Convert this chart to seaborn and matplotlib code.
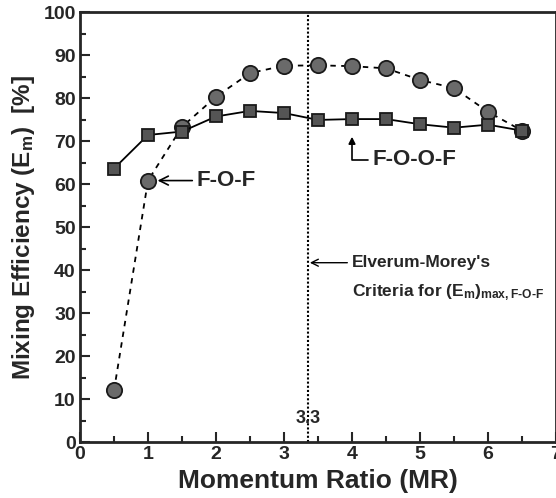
import matplotlib
matplotlib.use("Agg")
import matplotlib.pyplot as plt
import seaborn as sns
import pandas as pd
from matplotlib.ticker import MultipleLocator

mr = [0.5, 1.0, 1.5, 2.0, 2.5, 3.0, 3.5, 4.0, 4.5, 5.0, 5.5, 6.0, 6.5]
fof = [12.0, 60.8, 73.3, 80.3, 85.8, 87.5, 87.6, 87.4, 86.9, 84.2, 82.3, 76.8, 72.4]
foof = [63.6, 71.4, 72.2, 75.7, 77.0, 76.5, 74.9, 75.1, 75.1, 73.9, 73.1, 73.8, 72.4]
criteria_x = 3.36
criteria_label = "3.3"

sns.set_style("ticks")
plt.rcParams['font.family'] = ['Liberation Sans', 'DejaVu Sans']
plt.rcParams['mathtext.fontset'] = 'custom'
plt.rcParams['mathtext.rm'] = 'Liberation Sans:bold'
plt.rcParams['mathtext.it'] = 'Liberation Sans:bold'
plt.rcParams['mathtext.bf'] = 'Liberation Sans:bold'

df = pd.DataFrame({"MR": mr, "FOF": fof, "FOOF": foof})

fig = plt.figure(figsize=(5.56, 4.98), dpi=100)
ax = fig.add_axes([0.1439, 0.1124, 0.8561, 0.8635])

sns.lineplot(data=df, x="MR", y="FOF", ax=ax, color="black", linestyle=(0, (3, 3)),
             linewidth=1.3, marker="o", markersize=11, markerfacecolor="#6a6a6a",
             markeredgecolor="#1a1a1a", markeredgewidth=1.3)
sns.lineplot(data=df, x="MR", y="FOOF", ax=ax, color="black", linestyle="-",
             linewidth=1.3, marker="s", markersize=9, markerfacecolor="#555555",
             markeredgecolor="#1a1a1a", markeredgewidth=1.3)

ax.axvline(criteria_x, color="black", linestyle=(0, (1, 1)), linewidth=1.5)

ax.set_xlim(0, 7)
ax.set_ylim(0, 100)
ax.xaxis.set_major_locator(MultipleLocator(1))
ax.xaxis.set_minor_locator(MultipleLocator(0.5))
ax.yaxis.set_major_locator(MultipleLocator(10))
ax.yaxis.set_minor_locator(MultipleLocator(5))
ax.tick_params(which="both", direction="in", top=False, right=False, width=1.5)
ax.tick_params(which="major", length=7, labelsize=14, pad=3)
ax.tick_params(which="minor", length=4)
for lab in ax.get_xticklabels() + ax.get_yticklabels():
    lab.set_fontweight("bold")
for s in ax.spines.values():
    s.set_linewidth(2)
    s.set_visible(True)

ax.set_xlabel("Momentum Ratio (MR)", fontsize=19, fontweight="bold", labelpad=4)
ax.set_ylabel(r"Mixing Efficiency (E$_\mathregular{m}$)  [%]", fontsize=17.5,
              fontweight="bold", labelpad=5)

ax.text(criteria_x, 5.4, criteria_label, fontsize=13, fontweight="bold",
        ha="center", va="center")

ax.annotate("F-O-F", xy=(1.1, 60.8), xytext=(1.72, 60.8), fontsize=16,
            fontweight="bold", va="center", ha="left",
            arrowprops=dict(arrowstyle="->", color="black", lw=1.2, shrinkA=1, shrinkB=2))
ax.annotate("F-O-O-F", xy=(4.0, 71.0), xytext=(4.3, 65.6), fontsize=16,
            fontweight="bold", va="center", ha="left",
            arrowprops=dict(arrowstyle="-|>", color="black", lw=1.2, shrinkA=1, shrinkB=0,
                            connectionstyle="angle,angleA=0,angleB=90,rad=0",
                            mutation_scale=10))
ax.annotate("Elverum-Morey's", xy=(criteria_x + 0.02, 41.7), xytext=(4.0, 41.7),
            fontsize=12.5, fontweight="bold", va="center", ha="left",
            arrowprops=dict(arrowstyle="->", color="black", lw=1.0, shrinkA=1, shrinkB=0))
ax.text(4.0, 34.7, r"Criteria for (E$_\mathregular{m}$)$_\mathregular{max,F\text{-}O\text{-}F}$",
        fontsize=12.5, fontweight="bold", va="center", ha="left")

fig.savefig("out.png", dpi=100)
